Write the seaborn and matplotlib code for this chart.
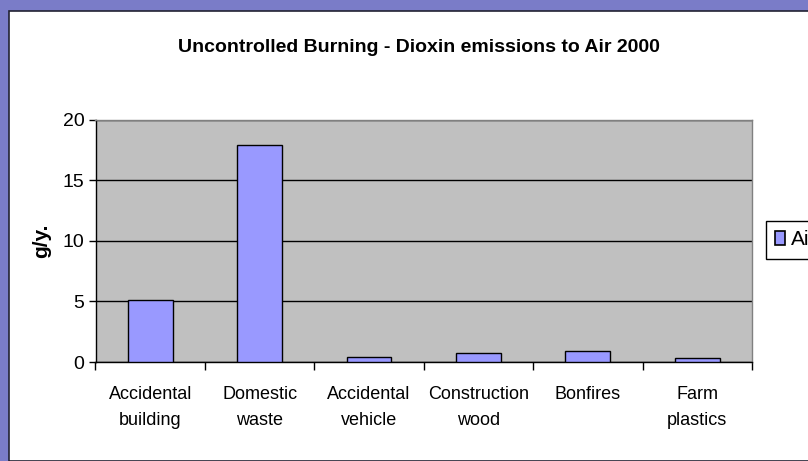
import matplotlib
matplotlib.use("Agg")
import matplotlib.pyplot as plt
import seaborn as sns
import pandas as pd
from matplotlib.patches import Rectangle, Patch
from matplotlib.ticker import FixedLocator

categories = ["Accidental\nbuilding", "Domestic\nwaste", "Accidental\nvehicle",
              "Construction\nwood", "Bonfires", "Farm\nplastics"]
air_values = [5.1, 17.9, 0.42, 0.75, 0.9, 0.3]
y_ticks = [0, 5, 10, 15, 20]
title = "Uncontrolled Burning - Dioxin emissions to Air 2000"
y_label = "g/y."
series_name = "Air"

df = pd.DataFrame({"category": categories, "value": air_values})

sns.set_theme(style="white")
FONT = ["Liberation Sans Narrow", "Liberation Sans", "DejaVu Sans"]
plt.rcParams["font.family"] = FONT
plt.rcParams["text.color"] = "black"
plt.rcParams["xtick.color"] = "black"
plt.rcParams["ytick.color"] = "black"
plt.rcParams["axes.labelcolor"] = "black"

W, H = 808, 461
fig = plt.figure(figsize=(W / 100, H / 100), dpi=100)
fig.patch.set_facecolor("#7a7cc8")
# white chart area
fig.patches.append(Rectangle((9 / W, 0), 1, 1 - 11 / H, transform=fig.transFigure,
                             facecolor="white", edgecolor="#222233", linewidth=1.2, zorder=-5))

ax = fig.add_axes([95.5 / W, (H - 362) / H, (752 - 95.5) / W, (362 - 119.5) / H])
ax.set_zorder(2)
ax.set_facecolor("#c0c0c0")
sns.barplot(data=df, x="category", y="value", color="#9999ff", edgecolor="black",
            linewidth=1.0, width=0.41, saturation=1, ax=ax, zorder=3)

ax.set_ylim(0, 20)
ax.set_xlim(-0.5, len(categories) - 0.5)
ax.set_yticks(y_ticks)
ax.set_yticklabels([str(t) for t in y_ticks], fontsize=14)
ax.yaxis.grid(True, color="black", linewidth=1.0, zorder=1)
ax.set_axisbelow(True)
ax.tick_params(axis="y", which="major", length=5, width=1, color="black", pad=3, left=True)
ax.tick_params(axis="x", which="major", length=0, pad=17, labelsize=13)
ax.xaxis.set_minor_locator(FixedLocator([i - 0.5 for i in range(len(categories) + 1)]))
ax.tick_params(axis="x", which="minor", length=6, width=1, color="black", bottom=True)
for lab in ax.get_xticklabels():
    lab.set_linespacing(1.75)

for side in ["left", "bottom"]:
    ax.spines[side].set_color("black")
    ax.spines[side].set_linewidth(1.0)
for side in ["top", "right"]:
    ax.spines[side].set_color("#808080")
    ax.spines[side].set_linewidth(1.0)

ax.set_xlabel("")
ax.set_ylabel(y_label, fontsize=15, fontweight="bold", labelpad=8)

fig.text(419 / W, 1 - 47 / H, title, ha="center", va="center",
         fontsize=14, fontweight="bold")

handle = Patch(facecolor="#9999ff", edgecolor="black", linewidth=1.2)
fig.legend([handle], [series_name], loc="upper left",
           bbox_to_anchor=(766 / W, 1 - 221 / H), frameon=True, fancybox=False,
           edgecolor="black", framealpha=1, fontsize=15, handlelength=0.45,
           handleheight=0.65, handletextpad=0.3, borderpad=0.45, borderaxespad=0)

fig.savefig("out.png", dpi=100, facecolor=fig.get_facecolor())
